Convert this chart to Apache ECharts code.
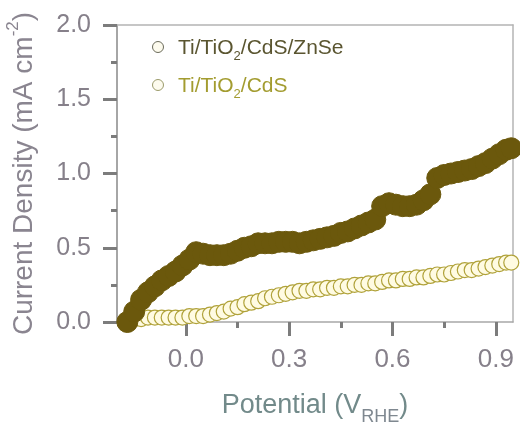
<!DOCTYPE html>
<html>
<head>
<meta charset="utf-8">
<title>Current Density</title>
<script src="https://cdn.jsdelivr.net/npm/echarts@6/dist/echarts.min.js"></script>
<style>
  html, body { margin: 0; padding: 0; background: #fff; }
  #main { width: 520px; height: 425px; }
</style>
</head>
<body>
<div id="main"></div>
<script>
// data
var znsePotential = [-0.17, -0.15, -0.13, -0.11, -0.09, -0.07, -0.05, -0.03, -0.01, 0.01, 0.03, 0.05, 0.07, 0.09,
    0.11, 0.13, 0.15, 0.17, 0.19, 0.21, 0.23, 0.25, 0.27, 0.29, 0.31, 0.33, 0.35, 0.37, 0.39, 0.41, 0.43,
    0.45, 0.47, 0.49, 0.51, 0.53, 0.55, 0.57, 0.59, 0.61, 0.63, 0.65, 0.67, 0.69, 0.71, 0.73, 0.75, 0.77,
    0.79, 0.81, 0.83, 0.85, 0.87, 0.89, 0.91, 0.93, 0.945];
var znseCurrent = [0.00, 0.07, 0.15, 0.20, 0.24, 0.28, 0.31, 0.34, 0.38, 0.42, 0.47, 0.46, 0.45, 0.45,
    0.45, 0.46, 0.48, 0.50, 0.51, 0.53, 0.53, 0.53, 0.54, 0.54, 0.54, 0.53, 0.54, 0.55, 0.56, 0.57, 0.58,
    0.60, 0.61, 0.63, 0.65, 0.67, 0.69, 0.78, 0.80, 0.79, 0.78, 0.78, 0.79, 0.82, 0.86, 0.97, 0.99, 1.00,
    1.01, 1.02, 1.03, 1.05, 1.07, 1.10, 1.13, 1.16, 1.17];

var cdsPotential = [-0.17, -0.15, -0.13, -0.11, -0.09, -0.07, -0.05, -0.03, -0.01, 0.01, 0.03, 0.05, 0.07, 0.09,
    0.11, 0.13, 0.15, 0.17, 0.19, 0.21, 0.23, 0.25, 0.27, 0.29, 0.31, 0.33, 0.35, 0.37, 0.39, 0.41, 0.43,
    0.45, 0.47, 0.49, 0.51, 0.53, 0.55, 0.57, 0.59, 0.61, 0.63, 0.65, 0.67, 0.69, 0.71, 0.73, 0.75, 0.77,
    0.79, 0.81, 0.83, 0.85, 0.87, 0.89, 0.91, 0.93, 0.945];
var cdsCurrent = [0.01, 0.02, 0.02, 0.03, 0.03, 0.03, 0.03, 0.03, 0.03, 0.04, 0.04, 0.04, 0.05, 0.06,
    0.07, 0.09, 0.10, 0.12, 0.13, 0.14, 0.16, 0.17, 0.18, 0.19, 0.20, 0.21, 0.21, 0.22, 0.22, 0.23, 0.23,
    0.24, 0.24, 0.25, 0.25, 0.26, 0.26, 0.27, 0.28, 0.28, 0.29, 0.29, 0.30, 0.30, 0.31, 0.32, 0.32, 0.33,
    0.34, 0.35, 0.35, 0.36, 0.37, 0.38, 0.39, 0.40, 0.40];

var xMajorTicks = [0, 0.3, 0.6, 0.9];
var xMinorTicks = [-0.15, 0.15, 0.45, 0.75];

function pairs(xs, ys) {
    var out = [];
    for (var i = 0; i < xs.length; i++) {
        out.push([xs[i], ys[i]]);
    }
    return out;
}

var myChart = echarts.init(document.getElementById('main'));
var font = 'Liberation Sans, Arial, sans-serif';
var tickStyle = {color: '#7c7c7c', width: 3};
var frameStyle = {color: '#b4b4b4', width: 1.5};

var option = {
    animation: false,
    grid: {
        left: 117, right: 7, top: 25, bottom: 103,
        outerBoundsMode: 'none'
    },
    legend: {
        orient: 'vertical',
        left: 147,
        top: 33,
        itemGap: 13,
        itemWidth: 30,
        itemHeight: 11,
        icon: 'circle',
        data: [
            {name: 'Ti/TiO2/CdS/ZnSe', itemStyle: {color: '#fdfbee', borderColor: '#6a6a5a', borderWidth: 1}},
            {name: 'Ti/TiO2/CdS', itemStyle: {color: '#fdfbee', borderColor: '#9a9a6a', borderWidth: 1}}
        ],
        formatter: function(name) {
            if (name === 'Ti/TiO2/CdS/ZnSe') {
                return '{a|Ti/TiO}{as|2}{a|/CdS/ZnSe}';
            }
            return '{b|Ti/TiO}{bs|2}{b|/CdS}';
        },
        textStyle: {
            fontFamily: font,
            rich: {
                a: {fontSize: 21, color: '#5a5530', fontFamily: font, lineHeight: 24, verticalAlign: 'bottom'},
                as: {fontSize: 13, color: '#5a5530', fontFamily: font, lineHeight: 24, verticalAlign: 'bottom', padding: [0, 0, -4, 0]},
                b: {fontSize: 21, color: '#a39c30', fontFamily: font, lineHeight: 24, verticalAlign: 'bottom'},
                bs: {fontSize: 13, color: '#a39c30', fontFamily: font, lineHeight: 24, verticalAlign: 'bottom', padding: [0, 0, -4, 0]}
            }
        }
    },
    xAxis: [{
        type: 'value',
        min: -0.2,
        max: 0.95,
        name: '{t|Potential (V}{s|RHE}{t|)}',
        nameLocation: 'middle',
        nameGap: 67,
        nameTextStyle: {
            rich: {
                t: {fontSize: 27, color: '#728a8a', fontFamily: font, lineHeight: 30, verticalAlign: 'bottom'},
                s: {fontSize: 18, color: '#7f8890', fontFamily: font, lineHeight: 30, verticalAlign: 'bottom', padding: [0, 0, -7, 0]}
            }
        },
        axisLine: {onZero: false, lineStyle: {color: '#a8a8a8', width: 1.5}},
        axisTick: {customValues: xMajorTicks, length: 14, lineStyle: tickStyle},
        axisLabel: {
            customValues: xMajorTicks,
            margin: 25,
            fontSize: 26,
            fontFamily: font,
            color: '#86808a',
            formatter: function(v) { return v.toFixed(1); }
        },
        splitLine: {show: false}
    }, {
        // minor ticks only
        type: 'value',
        min: -0.2,
        max: 0.95,
        position: 'bottom',
        axisLine: {show: false, onZero: false},
        axisTick: {customValues: xMinorTicks, length: 6, lineStyle: tickStyle},
        axisLabel: {show: false},
        splitLine: {show: false}
    }, {
        // top frame line
        type: 'value',
        min: -0.2,
        max: 0.95,
        position: 'top',
        axisLine: {show: true, onZero: false, lineStyle: frameStyle},
        axisTick: {show: false},
        axisLabel: {show: false},
        splitLine: {show: false}
    }],
    yAxis: [{
        type: 'value',
        min: 0,
        max: 2,
        interval: 0.5,
        name: '{t|Current Density (mA cm}{s|-2}{t|)}',
        nameLocation: 'middle',
        nameGap: 79,
        nameTextStyle: {
            rich: {
                t: {fontSize: 28, color: '#8a8590', fontFamily: font, lineHeight: 30, verticalAlign: 'bottom'},
                s: {fontSize: 17, color: '#8a8590', fontFamily: font, lineHeight: 30, verticalAlign: 'top', padding: [-3, 0, 0, 0]}
            }
        },
        axisLine: {show: true, onZero: false, lineStyle: {color: '#888888', width: 1.5}},
        axisTick: {length: 14, lineStyle: tickStyle},
        minorTick: {show: true, splitNumber: 2, length: 6, lineStyle: tickStyle},
        axisLabel: {
            margin: 26,
            fontSize: 25,
            fontFamily: font,
            color: '#86808a',
            formatter: function(v) { return v.toFixed(1); }
        },
        splitLine: {show: false}
    }, {
        // right frame line
        type: 'value',
        min: 0,
        max: 2,
        position: 'right',
        axisLine: {show: true, onZero: false, lineStyle: frameStyle},
        axisTick: {show: false},
        axisLabel: {show: false},
        splitLine: {show: false}
    }],
    series: [{
        name: 'Ti/TiO2/CdS',
        type: 'scatter',
        symbol: 'circle',
        symbolSize: 15,
        itemStyle: {color: '#fffbe2', borderColor: '#b0a23a', borderWidth: 1.2, opacity: 1},
        data: pairs(cdsPotential, cdsCurrent)
    }, {
        name: 'Ti/TiO2/CdS/ZnSe',
        type: 'scatter',
        symbol: 'circle',
        symbolSize: 21,
        itemStyle: {color: '#6b580c', borderColor: '#6b580c', borderWidth: 1, opacity: 1},
        data: pairs(znsePotential, znseCurrent)
    }]
};

myChart.setOption(option);
</script>
</body>
</html>
